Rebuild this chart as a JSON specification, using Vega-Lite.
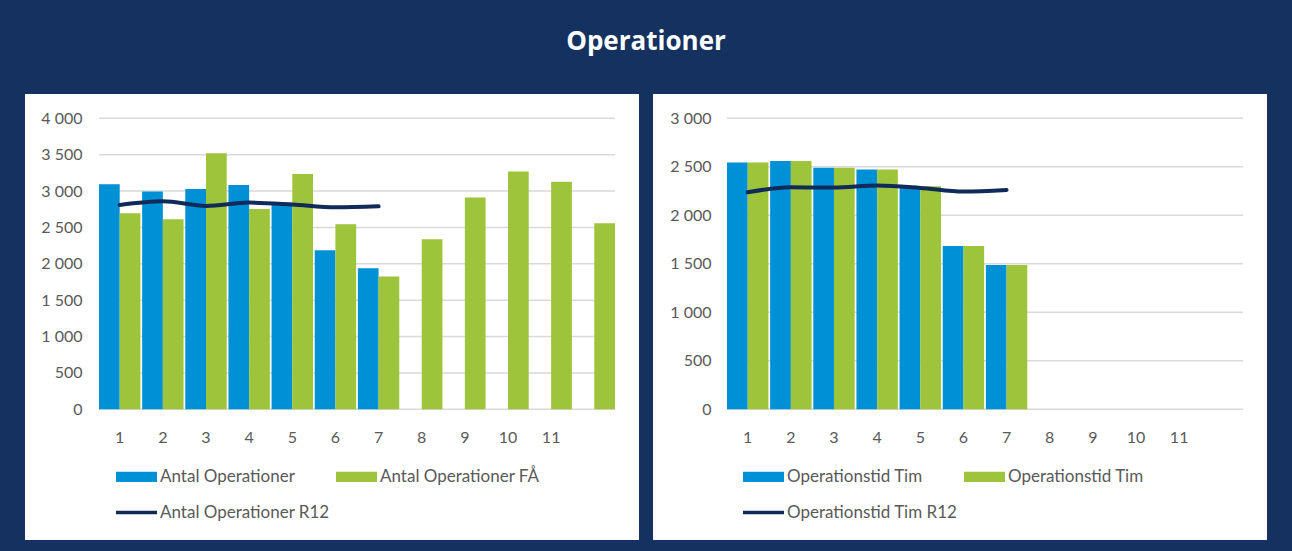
{
  "$schema": "https://vega.github.io/schema/vega-lite/v6.json",
  "background": "#14315f",
  "padding": {"left": 25, "right": 25, "top": 29, "bottom": 11},
  "title": {"text": "Operationer", "font": "Open Sans", "fontSize": 26, "fontWeight": "bold", "color": "white", "anchor": "middle", "offset": 39},
  "datasets": {
    "left": [
      {"m": 1, "series": "Antal Operationer", "v": 3093},
      {"m": 2, "series": "Antal Operationer", "v": 2992},
      {"m": 3, "series": "Antal Operationer", "v": 3029},
      {"m": 4, "series": "Antal Operationer", "v": 3084},
      {"m": 5, "series": "Antal Operationer", "v": 2840},
      {"m": 6, "series": "Antal Operationer", "v": 2186},
      {"m": 7, "series": "Antal Operationer", "v": 1938},
      {"m": 1, "series": "Antal Operationer FÅ", "v": 2694},
      {"m": 2, "series": "Antal Operationer FÅ", "v": 2612},
      {"m": 3, "series": "Antal Operationer FÅ", "v": 3519},
      {"m": 4, "series": "Antal Operationer FÅ", "v": 2754},
      {"m": 5, "series": "Antal Operationer FÅ", "v": 3235},
      {"m": 6, "series": "Antal Operationer FÅ", "v": 2543},
      {"m": 7, "series": "Antal Operationer FÅ", "v": 1824},
      {"m": 8, "series": "Antal Operationer FÅ", "v": 2337},
      {"m": 9, "series": "Antal Operationer FÅ", "v": 2910},
      {"m": 10, "series": "Antal Operationer FÅ", "v": 3267},
      {"m": 11, "series": "Antal Operationer FÅ", "v": 3129},
      {"m": 12, "series": "Antal Operationer FÅ", "v": 2557}
    ],
    "leftLine": [
      {"m": 1, "series": "Antal Operationer R12", "v": 2809},
      {"m": 2, "series": "Antal Operationer R12", "v": 2860},
      {"m": 3, "series": "Antal Operationer R12", "v": 2795},
      {"m": 4, "series": "Antal Operationer R12", "v": 2841},
      {"m": 5, "series": "Antal Operationer R12", "v": 2815},
      {"m": 6, "series": "Antal Operationer R12", "v": 2777},
      {"m": 7, "series": "Antal Operationer R12", "v": 2790}
    ],
    "right": [
      {"m": 1, "series": "Operationstid Tim", "v": 2543},
      {"m": 2, "series": "Operationstid Tim", "v": 2560},
      {"m": 3, "series": "Operationstid Tim", "v": 2491},
      {"m": 4, "series": "Operationstid Tim", "v": 2471},
      {"m": 5, "series": "Operationstid Tim", "v": 2299},
      {"m": 6, "series": "Operationstid Tim", "v": 1684},
      {"m": 7, "series": "Operationstid Tim", "v": 1488},
      {"m": 1, "series": "Operationstid Tim FÅ", "v": 2543},
      {"m": 2, "series": "Operationstid Tim FÅ", "v": 2560},
      {"m": 3, "series": "Operationstid Tim FÅ", "v": 2491},
      {"m": 4, "series": "Operationstid Tim FÅ", "v": 2471},
      {"m": 5, "series": "Operationstid Tim FÅ", "v": 2299},
      {"m": 6, "series": "Operationstid Tim FÅ", "v": 1684},
      {"m": 7, "series": "Operationstid Tim FÅ", "v": 1488}
    ],
    "rightLine": [
      {"m": 1, "series": "Operationstid Tim R12", "v": 2237},
      {"m": 2, "series": "Operationstid Tim R12", "v": 2290},
      {"m": 3, "series": "Operationstid Tim R12", "v": 2285},
      {"m": 4, "series": "Operationstid Tim R12", "v": 2306},
      {"m": 5, "series": "Operationstid Tim R12", "v": 2282},
      {"m": 6, "series": "Operationstid Tim R12", "v": 2244},
      {"m": 7, "series": "Operationstid Tim R12", "v": 2261}
    ],
    "gridL": [{"g": 0}, {"g": 500}, {"g": 1000}, {"g": 1500}, {"g": 2000}, {"g": 2500}, {"g": 3000}, {"g": 3500}, {"g": 4000}],
    "gridR": [{"g": 0}, {"g": 500}, {"g": 1000}, {"g": 1500}, {"g": 2000}, {"g": 2500}, {"g": 3000}]
  },
  "spacing": 14,
  "resolve": {"scale": {"x": "independent", "y": "independent", "color": "independent", "xOffset": "independent"}, "legend": {"color": "independent"}},
  "hconcat": [
    {
      "width": 614,
      "height": 446,
      "layer": [
        {
          "data": {"name": "gridL"},
          "mark": {"type": "rule", "color": "#d9d9d9", "strokeWidth": 1.5},
          "encoding": {
            "y": {"field": "g", "type": "quantitative", "scale": {"domain": [-1797, 4334], "nice": false, "zero": false},
              "axis": {"values": [0, 500, 1000, 1500, 2000, 2500, 3000, 3500, 4000], "grid": false, "domain": false, "ticks": false, "labelPadding": 0, "offset": -57, "title": null, "labelExpr": "replace(format(datum.value, ','), ',', ' ')"}},
            "x": {"datum": 1, "type": "ordinal", "bandPosition": 0,
              "axis": {"title": null, "domain": false, "ticks": false, "grid": false, "labelAngle": 0, "labelAlign": "center", "bandPosition": 0.5, "labelPadding": 0, "offset": -111, "labelExpr": "datum.value == 12 ? '' : datum.label"}},
            "x2": {"datum": 12, "bandPosition": 1}
          }
        },
        {
          "data": {"name": "left"},
          "mark": {"type": "bar"},
          "encoding": {
            "x": {"field": "m", "type": "ordinal", "scale": {"domain": [1,2,3,4,5,6,7,8,9,10,11,12], "range": [74, 590], "paddingInner": 0.04, "paddingOuter": 0},
              "axis": {"title": null, "domain": false, "ticks": false, "grid": false, "labelAngle": 0, "labelAlign": "center", "bandPosition": 0.5, "labelPadding": 0, "offset": -111, "labelExpr": "datum.value == 12 ? '' : datum.label"}},
            "xOffset": {"field": "series", "type": "nominal", "scale": {"domain": ["Antal Operationer", "Antal Operationer FÅ"], "paddingInner": 0, "paddingOuter": 0}},
            "y": {"field": "v", "type": "quantitative"},
            "y2": {"datum": 0},
            "color": {"field": "series", "type": "nominal",
              "scale": {"domain": ["Antal Operationer", "Antal Operationer FÅ", "Antal Operationer R12"], "range": ["#0090d5", "#9dc43a", "#102a5a"]},
              "legend": {"orient": "none", "legendX": 91, "legendY": 362, "columns": 2, "direction": "horizontal", "title": null,
                "symbolSize": 1681, "symbolStrokeWidth": 0, "labelOffset": 3, "columnPadding": 6, "rowPadding": 7,
                "encode": {"symbols": {"update": {
                  "shape": {"signal": "indexof(datum.value, 'R12') >= 0 ? 'M-1,-0.09H1V0.09H-1Z' : 'M-1,-0.25H1V0.25H-1Z'"},
                  "fill": {"signal": "indexof(datum.value, 'R12') >= 0 ? '#102a5a' : (indexof(datum.value, 'FÅ') >= 0 ? '#9dc43a' : '#0090d5')"},
                  "stroke": {"value": "transparent"}
                }}}}}
          }
        },
        {
          "data": {"name": "leftLine"},
          "mark": {"type": "line", "strokeWidth": 4, "strokeCap": "round", "interpolate": "monotone"},
          "encoding": {
            "x": {"field": "m", "type": "ordinal"},
            "y": {"field": "v", "type": "quantitative"},
            "color": {"field": "series", "type": "nominal"}
          }
        }
      ]
    },
    {
      "width": 614,
      "height": 446,
      "layer": [
        {
          "data": {"name": "gridR"},
          "mark": {"type": "rule", "color": "#d9d9d9", "strokeWidth": 1.5},
          "encoding": {
            "y": {"field": "g", "type": "quantitative", "scale": {"domain": [-1347, 3250], "nice": false, "zero": false},
              "axis": {"values": [0, 500, 1000, 1500, 2000, 2500, 3000], "grid": false, "domain": false, "ticks": false, "labelPadding": 0, "offset": -58, "title": null, "labelExpr": "replace(format(datum.value, ','), ',', ' ')"}},
            "x": {"datum": 1, "type": "ordinal", "bandPosition": 0,
              "axis": {"title": null, "domain": false, "ticks": false, "grid": false, "labelAngle": 0, "labelAlign": "center", "bandPosition": 0.5, "labelPadding": 0, "offset": -111, "labelExpr": "datum.value == 12 ? '' : datum.label"}},
            "x2": {"datum": 12, "bandPosition": 1}
          }
        },
        {
          "data": {"name": "right"},
          "mark": {"type": "bar"},
          "encoding": {
            "x": {"field": "m", "type": "ordinal", "scale": {"domain": [1,2,3,4,5,6,7,8,9,10,11,12], "range": [74, 590], "paddingInner": 0.04, "paddingOuter": 0},
              "axis": {"title": null, "domain": false, "ticks": false, "grid": false, "labelAngle": 0, "labelAlign": "center", "bandPosition": 0.5, "labelPadding": 0, "offset": -111, "labelExpr": "datum.value == 12 ? '' : datum.label"}},
            "xOffset": {"field": "series", "type": "nominal", "scale": {"domain": ["Operationstid Tim", "Operationstid Tim FÅ"], "paddingInner": 0, "paddingOuter": 0}},
            "y": {"field": "v", "type": "quantitative"},
            "y2": {"datum": 0},
            "color": {"field": "series", "type": "nominal",
              "scale": {"domain": ["Operationstid Tim", "Operationstid Tim FÅ", "Operationstid Tim R12"], "range": ["#0090d5", "#9dc43a", "#102a5a"]},
              "legend": {"orient": "none", "legendX": 90, "legendY": 362, "columns": 2, "direction": "horizontal", "title": null,
                "symbolSize": 1681, "symbolStrokeWidth": 0, "labelOffset": 3, "columnPadding": 6, "rowPadding": 7,
                "labelExpr": "replace(datum.label, ' FÅ', '')",
                "encode": {"symbols": {"update": {
                  "shape": {"signal": "indexof(datum.value, 'R12') >= 0 ? 'M-1,-0.09H1V0.09H-1Z' : 'M-1,-0.25H1V0.25H-1Z'"},
                  "fill": {"signal": "indexof(datum.value, 'R12') >= 0 ? '#102a5a' : (indexof(datum.value, 'FÅ') >= 0 ? '#9dc43a' : '#0090d5')"},
                  "stroke": {"value": "transparent"}
                }}}}}
          }
        },
        {
          "data": {"name": "rightLine"},
          "mark": {"type": "line", "strokeWidth": 4, "strokeCap": "round", "interpolate": "monotone"},
          "encoding": {
            "x": {"field": "m", "type": "ordinal"},
            "y": {"field": "v", "type": "quantitative"},
            "color": {"field": "series", "type": "nominal"}
          }
        }
      ]
    }
  ],
  "config": {
    "view": {"fill": "white", "stroke": null},
    "axis": {"labelFont": "Lato", "labelFontSize": 16, "labelColor": "#595959"},
    "legend": {"labelFont": "Lato", "labelFontSize": 17, "labelColor": "#595959", "padding": 0, "labelLimit": 400}
  }
}
